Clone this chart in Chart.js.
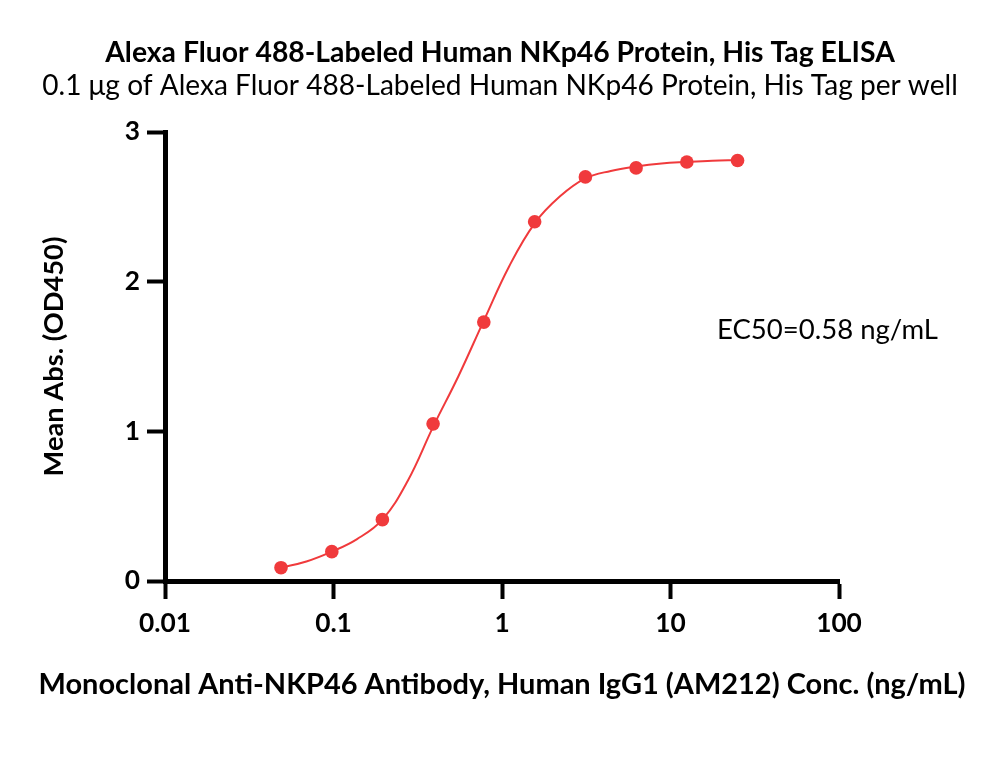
<!DOCTYPE html>
<html>
<head>
<meta charset="utf-8">
<script src="https://cdn.jsdelivr.net/npm/chart.js@4.4.0/dist/chart.umd.min.js"></script>
<style>
html,body{margin:0;padding:0;background:#fff;}
#wrap{width:1000px;height:772px;}
</style>
</head>
<body>
<div id="wrap"><canvas id="c" width="1000" height="772"></canvas></div>
<script>
// ---- data: measured points ----
const concentrations = [0.0488, 0.0977, 0.195, 0.39, 0.78, 1.5625, 3.125, 6.25, 12.5, 25];
const meanAbs = [0.089, 0.196, 0.41, 1.05, 1.73, 2.40, 2.70, 2.76, 2.80, 2.81];
// ---- data: fitted curve ----
const fitConc = [0.0488, 0.069, 0.0977, 0.138, 0.195, 0.276, 0.39, 0.552, 0.78, 1.10, 1.5625, 2.21, 3.125, 4.42, 6.25, 8.84, 12.5, 17.7, 25];
const fitAbs = [0.089, 0.13, 0.196, 0.28, 0.41, 0.67, 1.03, 1.37, 1.74, 2.10, 2.39, 2.57, 2.69, 2.74, 2.77, 2.79, 2.80, 2.808, 2.812];
// ---- ticks ----
const xTickValues = [0.01, 0.1, 1, 10, 100];
const xTickLabels = ['0.01', '0.1', '1', '10', '100'];
const yTickValues = [0, 1, 2, 3];
const yTickLabels = ['0', '1', '2', '3'];
// ---- texts ----
const titleText = 'Alexa Fluor 488-Labeled Human NKp46 Protein, His Tag ELISA';
const subtitleText = '0.1 \u03bcg of Alexa Fluor 488-Labeled Human NKp46 Protein, His Tag per well';
const xTitleText = 'Monoclonal Anti-NKP46 Antibody, Human IgG1 (AM212) Conc. (ng/mL)';
const yTitleText = 'Mean Abs. (OD450)';
const ec50Text = 'EC50=0.58 ng/mL';

// ---- styling helpers ----
const FAMILY = 'Lato, "Noto Sans", sans-serif';
const RED = 'rgb(240,58,60)';
const mctx = document.createElement('canvas').getContext('2d');
function fitSize(text, weight, target) {
  mctx.font = weight + ' 100px ' + FAMILY;
  return 100 * target / mctx.measureText(text).width;
}
const titleSize = fitSize(titleText, 'bold', 790);
const subSize = fitSize(subtitleText, 'normal', 916);
const xTitleSize = fitSize(xTitleText, 'bold', 927);
const yTitleSize = fitSize(yTitleText, 'bold', 240);
const tickSize = fitSize('0.01', 'bold', 52);
const ecSize = fitSize(ec50Text, 'normal', 221);
const LH = 1.2;

const tLH = titleSize * LH, sLH = subSize * LH;
const titleMid = 53, subMid = 86, areaTop = 132, areaBottom = 581, areaLeft = 165, areaRight = 839;
const xAxisHeight = 140;

const textPlugin = {
  id: 'extraText',
  afterDraw(chart) {
    const c = chart.ctx;
    const a = chart.chartArea;
    c.save();
    c.fillStyle = '#000';
    c.textBaseline = 'middle';
    c.font = 'normal ' + ecSize + 'px ' + FAMILY;
    c.textAlign = 'left';
    c.fillText(ec50Text, 717, 330);
    c.font = 'bold ' + xTitleSize + 'px ' + FAMILY;
    c.textAlign = 'center';
    c.fillText(xTitleText, (a.left + a.right) / 2, 685);
    c.restore();
  }
};

new Chart(document.getElementById('c'), {
  type: 'scatter',
  data: {
    datasets: [{
      label: 'fit',
      data: fitConc.map((x, i) => ({ x: x, y: fitAbs[i] })),
      showLine: true,
      borderColor: RED,
      borderWidth: 2,
      pointRadius: 0,
      pointHoverRadius: 0,
      tension: 0.4,
      clip: false,
      order: 2
    }, {
      label: 'points',
      data: concentrations.map((x, i) => ({ x: x, y: meanAbs[i] })),
      showLine: false,
      backgroundColor: RED,
      borderColor: RED,
      pointRadius: 6.8,
      pointHoverRadius: 6.8,
      pointBorderWidth: 0,
      clip: false,
      order: 1
    }]
  },
  options: {
    responsive: false,
    animation: false,
    events: [],
    layout: { padding: { left: 0, right: 0, top: 0, bottom: 772 - areaBottom - xAxisHeight } },
    plugins: {
      legend: { display: false },
      tooltip: { enabled: false },
      title: {
        display: true,
        text: titleText,
        color: '#000',
        font: { family: FAMILY, weight: 'bold', size: titleSize, lineHeight: LH },
        padding: { top: titleMid - tLH / 2, bottom: subMid - titleMid - tLH / 2 - sLH / 2 }
      },
      subtitle: {
        display: true,
        text: subtitleText,
        color: '#000',
        font: { family: FAMILY, weight: 'normal', size: subSize, lineHeight: LH },
        padding: { top: 0, bottom: areaTop - subMid - sLH / 2 }
      }
    },
    scales: {
      x: {
        type: 'logarithmic',
        min: 0.01,
        max: 100,
        afterBuildTicks(scale) { scale.ticks = xTickValues.map(v => ({ value: v })); },
        afterFit(scale) { scale.height = xAxisHeight; },
        ticks: {
          color: '#000',
          font: { family: FAMILY, weight: 'bold', size: tickSize, lineHeight: LH },
          padding: 9,
          maxRotation: 0,
          autoSkip: false,
          callback(v) { const i = xTickValues.indexOf(v); return i >= 0 ? xTickLabels[i] : ''; }
        },
        grid: { display: true, drawOnChartArea: false, drawTicks: true, tickLength: 18, tickWidth: 4, tickColor: '#000', color: '#000' },
        border: { display: true, color: '#000', width: 5 }
      },
      y: {
        type: 'linear',
        min: 0,
        max: 3,
        afterBuildTicks(scale) { scale.ticks = yTickValues.map(v => ({ value: v })); },
        afterFit(scale) { scale.width = areaLeft; },
        ticks: {
          color: '#000',
          font: { family: FAMILY, weight: 'bold', size: tickSize, lineHeight: LH },
          padding: 7,
          callback(v) { const i = yTickValues.indexOf(v); return i >= 0 ? yTickLabels[i] : ''; }
        },
        grid: { display: true, drawOnChartArea: false, drawTicks: true, tickLength: 18, tickWidth: 4, tickColor: '#000', color: '#000' },
        border: { display: true, color: '#000', width: 5 },
        title: {
          display: true,
          text: yTitleText,
          color: '#000',
          font: { family: FAMILY, weight: 'bold', size: yTitleSize, lineHeight: LH },
          padding: { top: 54 - yTitleSize * LH / 2, bottom: 0 }
        }
      },
      spacer: {
        type: 'linear',
        position: 'right',
        display: true,
        ticks: { display: false },
        grid: { display: false, drawTicks: false },
        border: { display: false },
        afterFit(scale) { scale.width = 1000 - areaRight; }
      }
    }
  },
  plugins: [textPlugin]
});
</script>
</body>
</html>
